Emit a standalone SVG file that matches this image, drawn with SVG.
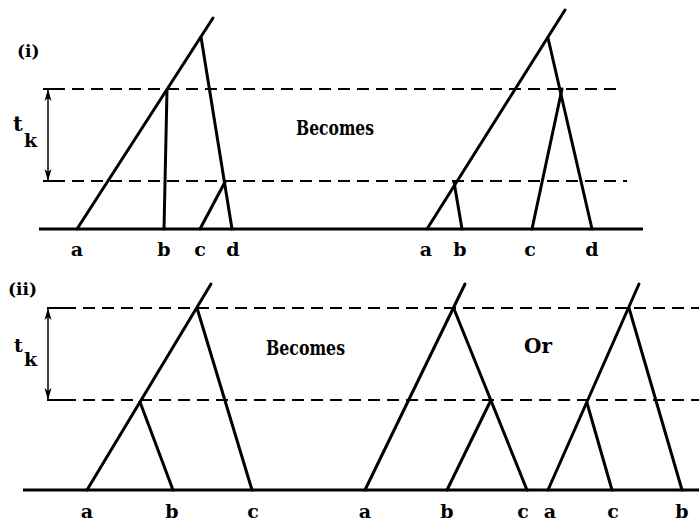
<svg xmlns="http://www.w3.org/2000/svg" width="699" height="523" viewBox="0 0 699 523">
<style>
.br{stroke:#000;stroke-width:3;stroke-linecap:round;fill:none}
.base{stroke:#000;stroke-width:3;fill:none}
.dash{stroke:#000;stroke-width:2;stroke-dasharray:12 7;fill:none}
.tick{stroke:#000;stroke-width:2;fill:none}
.arr{stroke:#000;stroke-width:1.5;fill:none;marker-start:url(#ah);marker-end:url(#ah)}
text{font-family:"DejaVu Serif","Liberation Serif",serif;font-weight:bold;fill:#000}
.lab{font-size:19px;text-anchor:middle}
.word{font-size:20px}
.sec{font-size:17px}
</style>
<defs>
<marker id="ah" viewBox="0 0 12 8" refX="11" refY="4" markerWidth="12" markerHeight="8" markerUnits="userSpaceOnUse" orient="auto-start-reverse">
<path d="M0,0.5 L12,4 L0,7.5 L3,4 Z" fill="#000"/>
</marker>
</defs>
<rect width="699" height="523" fill="#fff"/>
<g id="guides">
<line class="base" x1="39" y1="229" x2="643" y2="229"/>
<line class="dash" x1="53" y1="89" x2="623" y2="89"/>
<line class="dash" x1="53" y1="181" x2="627" y2="181"/>
<line class="tick" x1="43" y1="89" x2="53" y2="89"/>
<line class="tick" x1="43" y1="181" x2="53" y2="181"/>
<line class="arr" x1="48" y1="90" x2="48" y2="180"/>
<line class="base" x1="23" y1="490" x2="699" y2="490"/>
<line class="dash" x1="64" y1="308" x2="699" y2="308"/>
<line class="dash" x1="64" y1="400" x2="699" y2="400"/>
<line class="tick" x1="47" y1="308" x2="64" y2="308"/>
<line class="tick" x1="47" y1="400" x2="64" y2="400"/>
<line class="arr" x1="48" y1="309" x2="48" y2="399"/>
</g>
<g id="tree-i-before">
<line class="br" x1="77" y1="229" x2="213" y2="18"/>
<line class="br" x1="167" y1="90" x2="164" y2="229"/>
<line class="br" x1="201" y1="37" x2="232" y2="229"/>
<line class="br" x1="225" y1="182" x2="200" y2="229"/>
</g>
<g id="tree-i-after">
<line class="br" x1="427" y1="229" x2="565" y2="10"/>
<line class="br" x1="454" y1="182" x2="462" y2="229"/>
<line class="br" x1="548" y1="38" x2="592" y2="229"/>
<line class="br" x1="562" y1="89" x2="532" y2="229"/>
</g>
<g id="tree-ii-before">
<line class="br" x1="87" y1="490" x2="211" y2="284"/>
<line class="br" x1="140" y1="402" x2="173" y2="490"/>
<line class="br" x1="197" y1="308" x2="252" y2="490"/>
</g>
<g id="tree-ii-after1">
<line class="br" x1="365" y1="490" x2="465" y2="284"/>
<line class="br" x1="454" y1="309" x2="527" y2="490"/>
<line class="br" x1="490" y1="402" x2="447" y2="490"/>
</g>
<g id="tree-ii-after2">
<line class="br" x1="548" y1="490" x2="639" y2="284"/>
<line class="br" x1="587" y1="403" x2="612" y2="490"/>
<line class="br" x1="629" y1="308" x2="682" y2="490"/>
</g>
<g id="labels">
<text class="sec" x="17" y="57">(i)</text>
<text class="sec" x="8" y="295">(ii)</text>
<text x="13" y="131" font-size="21">t</text>
<text x="24" y="147" font-size="19">k</text>
<text x="14" y="352" font-size="19">t</text>
<text x="24" y="366" font-size="19">k</text>
<text class="word" x="296" y="135" textLength="78" lengthAdjust="spacingAndGlyphs">Becomes</text>
<text class="word" x="266" y="355" textLength="79" lengthAdjust="spacingAndGlyphs">Becomes</text>
<text class="word" x="524" y="353">Or</text>
<text class="lab" x="77" y="256">a</text>
<text class="lab" x="164" y="256">b</text>
<text class="lab" x="200" y="256">c</text>
<text class="lab" x="233" y="256">d</text>
<text class="lab" x="426" y="256">a</text>
<text class="lab" x="460" y="256">b</text>
<text class="lab" x="530" y="256">c</text>
<text class="lab" x="592" y="256">d</text>
<text class="lab" x="87" y="518">a</text>
<text class="lab" x="172" y="518">b</text>
<text class="lab" x="253" y="518">c</text>
<text class="lab" x="365" y="518">a</text>
<text class="lab" x="447" y="518">b</text>
<text class="lab" x="523" y="518">c</text>
<text class="lab" x="550" y="518">a</text>
<text class="lab" x="613" y="518">c</text>
<text class="lab" x="682" y="518">b</text>
</g>
</svg>
